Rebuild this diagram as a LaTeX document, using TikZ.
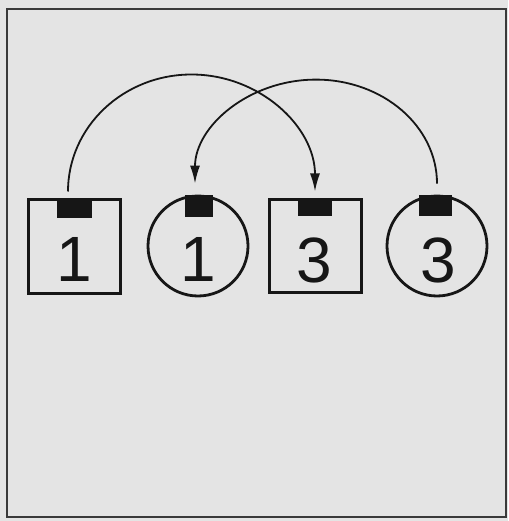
\documentclass[tikz,border=0pt]{standalone}
\usepackage{fontspec}
\setmainfont{Liberation Sans}
\usetikzlibrary{arrows.meta}
\definecolor{bg}{HTML}{E4E4E4}
\definecolor{ink}{HTML}{161616}
\definecolor{framec}{HTML}{3A3A3A}
\tikzset{
  sqbox/.style={draw=ink, line width=3pt, minimum width=92pt, minimum height=93pt, inner sep=0pt},
  circbox/.style={draw=ink, line width=2.8pt, circle, minimum size=100pt, inner sep=0pt},
  tab/.style={fill=ink},
  digit/.style={font=\fontsize{64}{64}\selectfont, text=ink, inner sep=0pt, anchor=base},
  link/.style={draw=ink, line width=1.8pt, -{Latex[length=18pt,width=10pt]}}
}
\begin{document}
\begin{tikzpicture}[x=1pt,y=1pt]
  \fill[bg] (0,0) rectangle (508,-521);
  \useasboundingbox (0,0) rectangle (508,-521);
  \draw[framec, line width=2.5pt] (7,-9) rectangle (506,-517);

  \node[sqbox] (s1) at (74,-246.5) {};
  \node[circbox] (c1) at (198,-246) {};
  \node[sqbox] (s3) at (315.5,-246) {};
  \node[circbox] (c3) at (437,-246) {};

  \fill[tab] (57,-200) rectangle (92,-218);
  \fill[tab] (185,-195) rectangle (213,-217);
  \fill[tab] (298,-200) rectangle (332,-216);
  \fill[tab] (419,-195) rectangle (452,-216);

  \node[digit] (d1) at (74,-281) {1};
  \node[digit] (d2) at (198,-281) {1};
  \node[digit] (d3) at (314,-282) {3};
  \node[digit] (d4) at (438,-282) {3};

  \coordinate (a1) at ([xshift=-6pt,yshift=7pt]s1.north);
  \coordinate (b1) at ([yshift=11pt]c3.north);
  \draw[link] (a1) arc[start angle=180, end angle=0, x radius=123.5, y radius=117];
  \draw[link] (b1) arc[start angle=0, end angle=180, x radius=121, y radius=104];
\end{tikzpicture}
\end{document}
